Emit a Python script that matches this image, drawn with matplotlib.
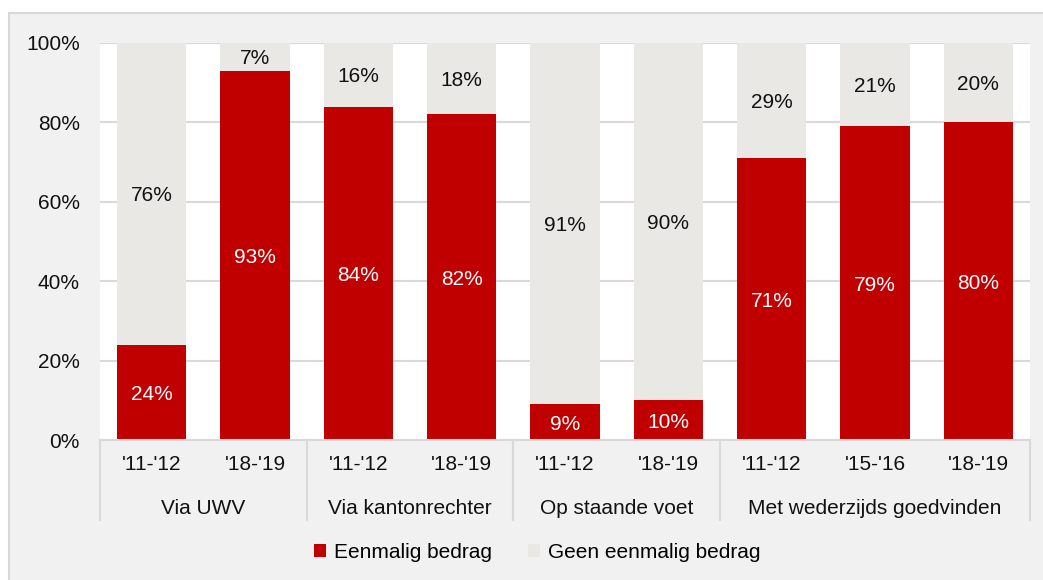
import matplotlib
matplotlib.use("Agg")
import matplotlib.pyplot as plt
from matplotlib.patches import Rectangle
from matplotlib.lines import Line2D
import numpy as np

plt.rcParams['font.family'] = ['Liberation Sans', 'DejaVu Sans']

groups = ["Via UWV", "Via kantonrechter", "Op staande voet", "Met wederzijds goedvinden"]
group_sizes = [2, 2, 2, 3]
periods = ["'11-'12", "'18-'19", "'11-'12", "'18-'19", "'11-'12", "'18-'19", "'11-'12", "'15-'16", "'18-'19"]
eenmalig = [24, 93, 84, 82, 9, 10, 71, 79, 80]
geen = [76, 7, 16, 18, 91, 90, 29, 21, 20]
series_names = ["Eenmalig bedrag", "Geen eenmalig bedrag"]
yticks = [0, 20, 40, 60, 80, 100]

RED = "#c00000"
GRAY = "#e9e8e5"
GRID = "#d9d9d9"
BG = "#f1f1f1"
FS = 15

W, H = 1043, 580
fig = plt.figure(figsize=(W / 100, H / 100), dpi=100)
fig.patch.set_facecolor("white")
frame = Rectangle((8.5 / W, -0.1), 1.2, 1 - 13.5 / H + 0.1, transform=fig.transFigure,
                  facecolor=BG, edgecolor=GRID, linewidth=1.5, zorder=-10)
fig.patches.append(frame)

ax = fig.add_axes([100 / W, 1 - 440 / H, 930 / W, 397 / H])
ax.set_zorder(1)
ax.set_facecolor("white")
x = np.arange(len(periods))
ax.bar(x, eenmalig, width=0.67, color=RED, zorder=3)
ax.bar(x, geen, width=0.67, bottom=eenmalig, color=GRAY, zorder=3)

for i in range(len(x)):
    ax.text(x[i], eenmalig[i] / 2, f"{eenmalig[i]}%", ha="center", va="center_baseline",
            color="white", fontsize=FS, zorder=4)
    ax.text(x[i], eenmalig[i] + geen[i] / 2, f"{geen[i]}%", ha="center", va="center_baseline",
            color="#111111", fontsize=FS, zorder=4)

ax.set_xlim(-0.5, len(x) - 0.5)
ax.set_ylim(0, 100)
ax.set_yticks(yticks)
ax.set_yticklabels([f"{v}%" for v in yticks], fontsize=FS, color="#111111")
ax.tick_params(axis="y", length=0, pad=14.5)
ax.yaxis.grid(True, color=GRID, linewidth=1.5, zorder=0)
ax.set_axisbelow(True)
for s in ["top", "right", "left"]:
    ax.spines[s].set_visible(False)
ax.spines["bottom"].set_color(GRID)
ax.spines["bottom"].set_linewidth(1.5)
ax.spines["bottom"].set_zorder(5)

ax.set_xticks(x)
ax.set_xticklabels(periods, fontsize=FS, color="#111111")
ax.tick_params(axis="x", length=0, pad=11)

trans = ax.get_xaxis_transform()
sep_depth = -80 / 397
bounds = np.concatenate([[0], np.cumsum(group_sizes)]) - 0.5
for b in bounds:
    ax.add_line(Line2D([b, b], [0, sep_depth], transform=trans, color=GRID,
                       linewidth=1.5, clip_on=False))
for g, (a, b) in zip(groups, zip(bounds[:-1], bounds[1:])):
    ax.text((a + b) / 2, -66 / 397, g, transform=trans, ha="center", va="center_baseline",
            fontsize=FS, color="#111111")

handles = [Rectangle((0, 0), 1, 1, facecolor=RED), Rectangle((0, 0), 1, 1, facecolor=GRAY)]
fig.legend(handles, series_names, loc="center", bbox_to_anchor=(537 / W, 1 - 552 / H),
           ncol=2, frameon=False, fontsize=FS, handlelength=0.6, handleheight=0.6,
           handletextpad=0.35, columnspacing=1.75)

fig.savefig("out.png", dpi=100, facecolor=fig.get_facecolor())
